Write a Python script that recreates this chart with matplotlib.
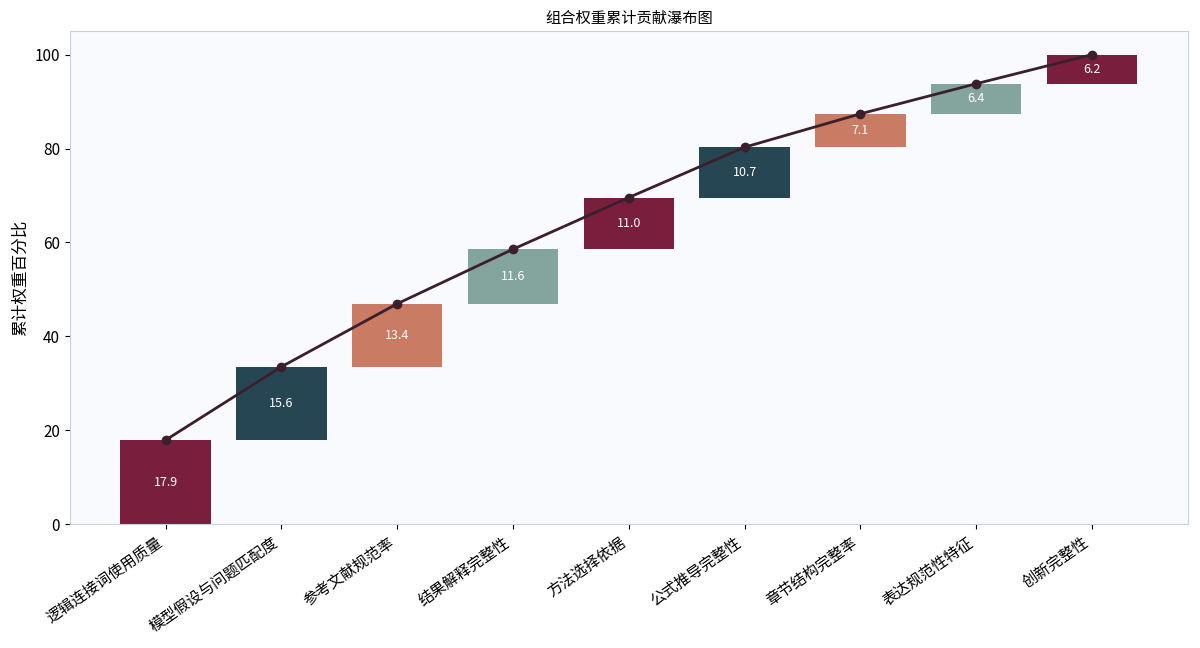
import matplotlib
matplotlib.use("Agg")
import matplotlib.pyplot as plt
import numpy as np

plt.rcParams['font.family'] = ['Noto Sans CJK SC', 'DejaVu Sans']

categories = ["逻辑连接词使用质量", "模型假设与问题匹配度", "参考文献规范率", "结果解释完整性",
              "方法选择依据", "公式推导完整性", "章节结构完整率", "表达规范性特征", "创新完整性"]
values = [17.9, 15.6, 13.4, 11.6, 11.0, 10.7, 7.1, 6.4, 6.2]
palette = ["#7A1E3E", "#264653", "#C97C63", "#84A59D"]

vals = np.array(values)
cum = np.cumsum(vals)
cum = cum / cum[-1] * 100
bottoms = np.concatenate([[0], cum[:-1]])
heights = cum - bottoms
x = np.arange(len(categories))
colors = [palette[i % len(palette)] for i in range(len(categories))]

fig, ax = plt.subplots(figsize=(12, 6.48), dpi=100)
fig.patch.set_facecolor("white")
ax.set_facecolor("#F8FAFE")

ax.bar(x, heights, bottom=bottoms, width=0.78, color=colors, zorder=2)
for xi, b, h, v in zip(x, bottoms, heights, values):
    ax.text(xi, b + h / 2, f"{v:.1f}", ha="center", va="center", color="white", fontsize=9, zorder=3)

ax.plot(x, cum, color="#3B1F2B", linewidth=2, marker="o", markersize=6, zorder=4)

ax.set_ylim(0, 105)
ax.set_xticks(x)
ax.set_xticklabels(categories, rotation=35, ha="right", fontsize=11)
ax.tick_params(axis="y", labelsize=11)
ax.set_ylabel("累计权重百分比", fontsize=12)
ax.set_title("组合权重累计贡献瀑布图", fontsize=11)
for s in ax.spines.values():
    s.set_color("#C8D2DE")

fig.subplots_adjust(left=0.058, right=0.99, top=0.952, bottom=0.191)
fig.savefig("out.png", dpi=100)
